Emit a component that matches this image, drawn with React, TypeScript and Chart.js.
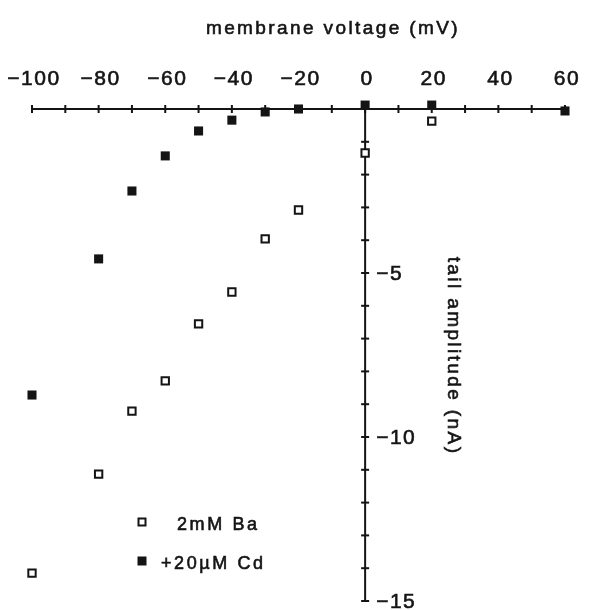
import React, { useEffect, useRef } from 'react';
import { Chart, registerables } from 'chart.js';

Chart.register(...registerables);

const baVoltages = [-100, -80, -70, -60, -50, -40, -30, -20, 0, 20];
const baAmplitude = [-14.15, -11.13, -9.21, -8.29, -6.55, -5.58, -3.96, -3.08, -1.34, -0.37];
const cdVoltages = [-100, -80, -70, -60, -50, -40, -30, -20, 0, 20, 60];
const cdAmplitude = [-8.72, -4.57, -2.5, -1.43, -0.67, -0.34, -0.09, 0, 0.12, 0.12, -0.06];
const xTickLabels = [-100, -80, -60, -40, -20, 0, 20, 40, 60];
const yTickLabels = [-5, -10, -15];
const seriesNames = ['2mM Ba', '+20µM Cd'];
const xTitle = 'membrane voltage (mV)';
const yTitle = 'tail amplitude (nA)';

const X_MIN = -100;
const X_MAX = 60;
const X_STEP = 10;
const Y_MIN = -15;
const Y_MAX = 0;
const Y_STEP = 1;

const INK = '#141414';
const FONT = '"Liberation Sans", Arial, Helvetica, sans-serif';

const fmt = (v: number) => (v < 0 ? '\u2212' + Math.abs(v) : String(v));

function heavyText(ctx: CanvasRenderingContext2D, s: string, x: number, y: number) {
  ctx.fillText(s, x, y);
  ctx.strokeText(s, x, y);
}

const axesPlugin = {
  id: 'crossAxes',
  beforeDatasetsDraw(chart: any) {
    const ctx = chart.ctx as CanvasRenderingContext2D;
    const xs = chart.scales.x;
    const ys = chart.scales.y;
    const x0 = xs.getPixelForValue(0);
    const y0 = ys.getPixelForValue(0);
    ctx.save();
    ctx.strokeStyle = INK;
    ctx.fillStyle = INK;
    ctx.lineCap = 'butt';
    // x axis line
    ctx.lineWidth = 2;
    ctx.beginPath();
    ctx.moveTo(xs.getPixelForValue(X_MIN), y0);
    ctx.lineTo(xs.getPixelForValue(X_MAX), y0);
    ctx.stroke();
    // x ticks
    for (let v = X_MIN; v <= X_MAX; v += X_STEP) {
      const px = xs.getPixelForValue(v);
      ctx.beginPath();
      ctx.moveTo(px, y0 - 4);
      ctx.lineTo(px, y0 + 4);
      ctx.stroke();
    }
    // y axis line
    ctx.beginPath();
    ctx.moveTo(x0, ys.getPixelForValue(Y_MAX));
    ctx.lineTo(x0, ys.getPixelForValue(Y_MIN));
    ctx.stroke();
    for (let v = Y_MAX; v >= Y_MIN; v -= Y_STEP) {
      const py = ys.getPixelForValue(v);
      ctx.beginPath();
      ctx.moveTo(x0 - 4, py);
      ctx.lineTo(x0 + 4, py);
      ctx.stroke();
    }
    // tick labels
    ctx.lineWidth = 0.6;
    (ctx as any).letterSpacing = '1.5px';
    ctx.font = `21px ${FONT}`;
    ctx.textAlign = 'center';
    ctx.textBaseline = 'alphabetic';
    xTickLabels.forEach((v) => {
      heavyText(ctx, fmt(v), xs.getPixelForValue(v) + 2, y0 - 24);
    });
    ctx.textAlign = 'left';
    ctx.textBaseline = 'middle';
    yTickLabels.forEach((v) => {
      heavyText(ctx, fmt(v), x0 + 11, ys.getPixelForValue(v) + 1);
    });
    // titles
    (ctx as any).letterSpacing = '2.4px';
    ctx.font = `19px ${FONT}`;
    ctx.textAlign = 'center';
    ctx.textBaseline = 'alphabetic';
    heavyText(ctx, xTitle, 333, 34);
    ctx.save();
    ctx.translate(447, 356);
    ctx.rotate(Math.PI / 2);
    ctx.textBaseline = 'middle';
    heavyText(ctx, yTitle, 0, -6);
    ctx.restore();
    // legend
    (ctx as any).letterSpacing = '2.6px';
    ctx.font = `18px ${FONT}`;
    ctx.textAlign = 'left';
    ctx.textBaseline = 'alphabetic';
    heavyText(ctx, seriesNames[0], 177, 530);
    heavyText(ctx, seriesNames[1], 161, 569);
    ctx.lineWidth = 2;
    ctx.strokeRect(138.5, 518.5, 7, 7);
    ctx.fillRect(137.5, 556.5, 9, 9);
    (ctx as any).letterSpacing = '0px';
    ctx.restore();
  },
};

export default function App() {
  const ref = useRef<HTMLCanvasElement>(null);
  useEffect(() => {
    if (!ref.current) return;
    const chart = new Chart(ref.current, {
      type: 'scatter',
      data: {
        datasets: [
          {
            label: seriesNames[0],
            data: baVoltages.map((x, i) => ({ x, y: baAmplitude[i] })),
            pointStyle: 'rect',
            pointRadius: 5.2,
            borderWidth: 2,
            borderColor: INK,
            backgroundColor: '#ffffff',
            clip: false as any,
          },
          {
            label: seriesNames[1],
            data: cdVoltages.map((x, i) => ({ x, y: cdAmplitude[i] })),
            pointStyle: 'rect',
            pointRadius: 6.4,
            borderWidth: 0,
            borderColor: INK,
            backgroundColor: INK,
            clip: false as any,
          },
        ],
      },
      options: {
        responsive: true,
        maintainAspectRatio: false,
        animation: false,
        layout: { padding: { left: 32, right: 24, top: 109, bottom: 9 } },
        plugins: { legend: { display: false }, tooltip: { enabled: false }, title: { display: false } },
        events: [],
        scales: {
          x: { type: 'linear', min: X_MIN, max: X_MAX, display: false },
          y: { type: 'linear', min: Y_MIN, max: Y_MAX, display: false },
        },
      },
      plugins: [axesPlugin],
    });
    return () => chart.destroy();
  }, []);
  return (
    <div style={{ position: 'fixed', left: 0, top: 0, width: 589, height: 610, background: '#fff' }}>
      <canvas ref={ref} />
    </div>
  );
}
